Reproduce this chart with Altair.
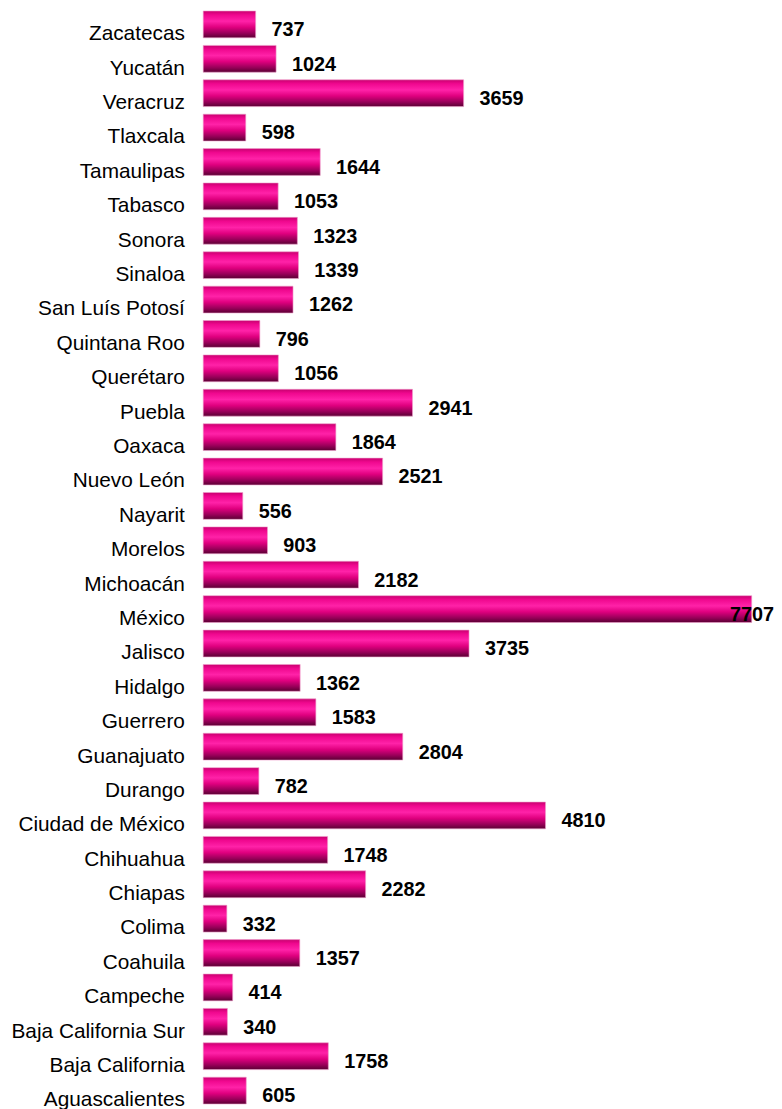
import altair as alt
import pandas as pd

states = ["Zacatecas", "Yucatán", "Veracruz", "Tlaxcala", "Tamaulipas", "Tabasco",
          "Sonora", "Sinaloa", "San Luís Potosí", "Quintana Roo", "Querétaro", "Puebla",
          "Oaxaca", "Nuevo León", "Nayarit", "Morelos", "Michoacán", "México", "Jalisco",
          "Hidalgo", "Guerrero", "Guanajuato", "Durango", "Ciudad de México", "Chihuahua",
          "Chiapas", "Colima", "Coahuila", "Campeche", "Baja California Sur",
          "Baja California", "Aguascalientes"]
values = [737, 1024, 3659, 598, 1644, 1053, 1323, 1339, 1262, 796, 1056, 2941,
          1864, 2521, 556, 903, 2182, 7707, 3735, 1362, 1583, 2804, 782, 4810, 1748,
          2282, 332, 1357, 414, 340, 1758, 605]

df = pd.DataFrame({"state": states, "value": values})

grad = alt.LinearGradient(
    gradient="linear", x1=0, y1=0, x2=0, y2=1,
    stops=[
        alt.GradientStop(color="#c8006f", offset=0),
        alt.GradientStop(color="#f0088f", offset=0.15),
        alt.GradientStop(color="#ff22a8", offset=0.38),
        alt.GradientStop(color="#e0007f", offset=0.6),
        alt.GradientStop(color="#9a005a", offset=0.82),
        alt.GradientStop(color="#5a0033", offset=1),
    ],
)

y_enc = alt.Y("state:N", sort=states, title=None,
              scale=alt.Scale(paddingInner=0.22, paddingOuter=0, range=[-2, 1101]),
              axis=alt.Axis(domain=False, ticks=False, labelFont="Liberation Sans",
                            labelFontSize=21, labelColor="#000000", labelPadding=19,
                            labelOffset=10, labelLimit=400))
x_enc = alt.X("value:Q", title=None, scale=alt.Scale(domain=[0, 8020], nice=False),
              axis=None)

bars = alt.Chart(df).mark_bar(color=grad, stroke="#f0a0cc", strokeWidth=0.6,
                              cornerRadius=0).encode(x=x_enc, y=y_enc)

text_style = dict(align="left", baseline="middle", font="Liberation Sans",
                  fontSize=20, fontWeight="bold", color="#000000")

labels = alt.Chart(df).transform_filter("datum.value < 7000").mark_text(
    dx=16, dy=6, **text_style).encode(x=x_enc, y=y_enc, text="value:Q")
labels_big = alt.Chart(df).transform_filter("datum.value >= 7000").mark_text(
    dx=-22, dy=6, **text_style).encode(x=x_enc, y=y_enc, text="value:Q")

chart = alt.layer(bars, labels, labels_big).properties(
    width=576, height=1101,
    padding={"left": 197, "top": 0, "right": 0, "bottom": 0},
    autosize=alt.AutoSizeParams(type="none"),
).configure_view(stroke=None)

chart.save("out.html", embed_options={"renderer": "svg", "actions": False})
